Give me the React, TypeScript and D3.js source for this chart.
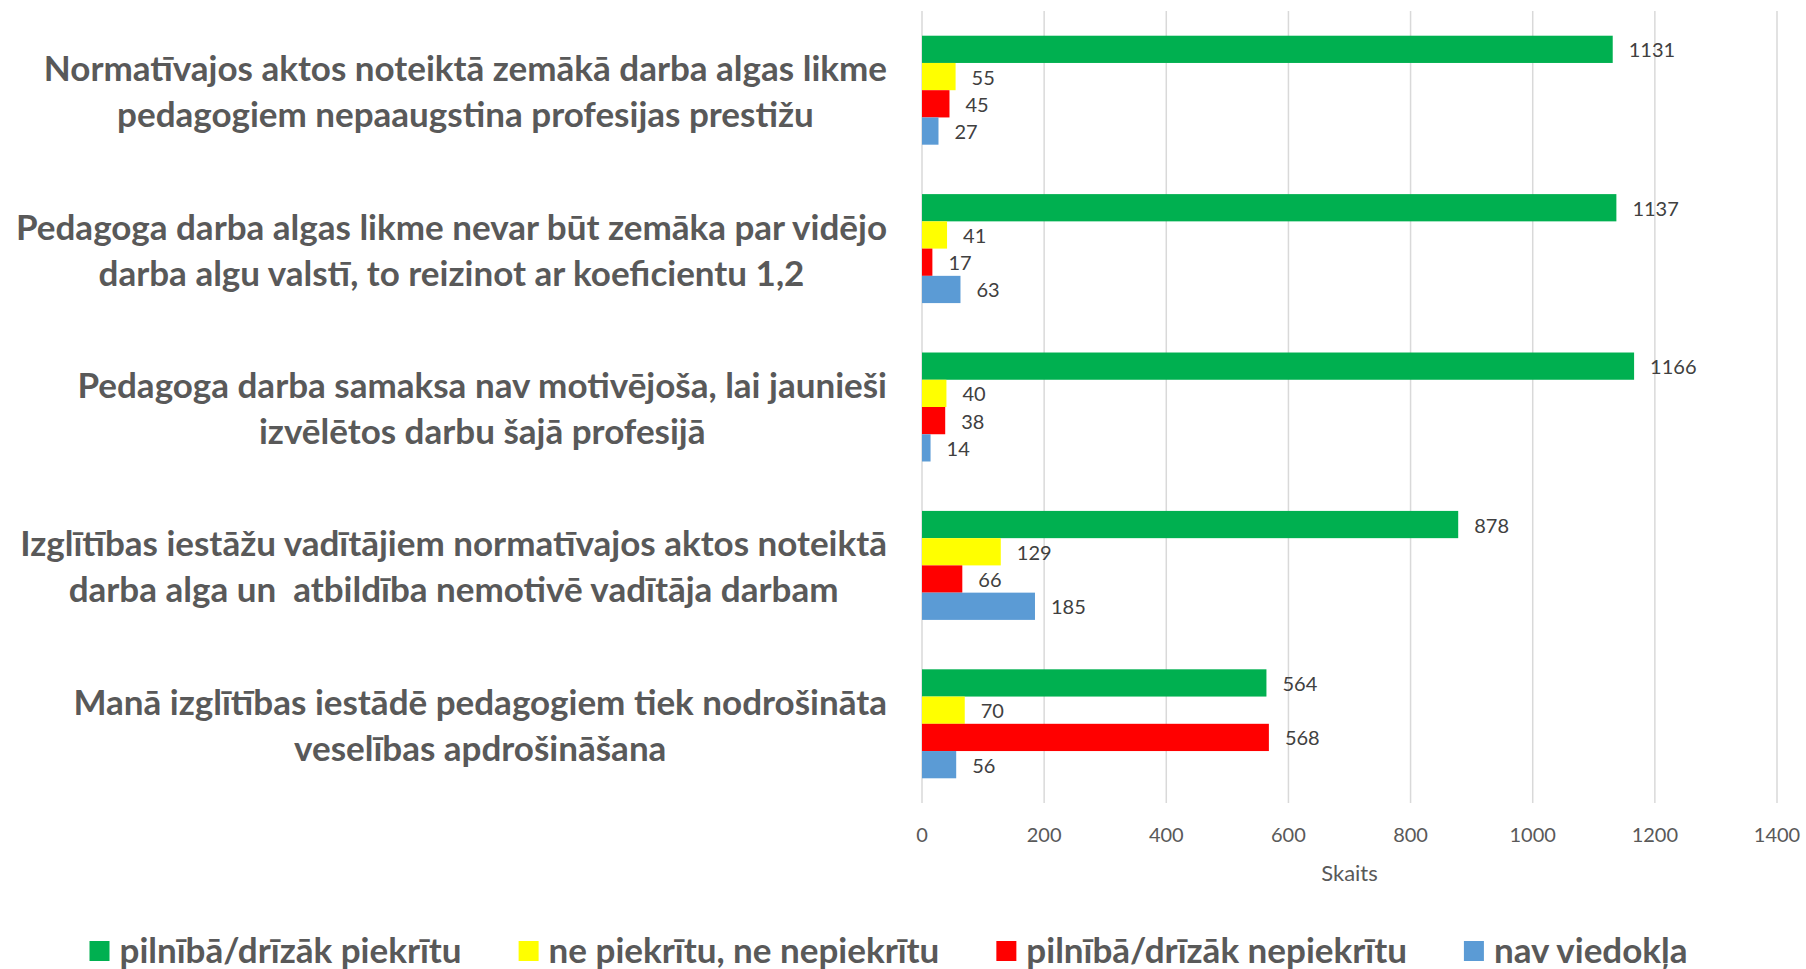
import React, { useRef, useEffect } from "react";
import * as d3 from "d3";

const categories = [
  ["Normatīvajos aktos noteiktā zemākā darba algas likme", "pedagogiem nepaaugstina profesijas prestižu"],
  ["Pedagoga darba algas likme nevar būt zemāka par vidējo", "darba algu valstī, to reizinot ar koeficientu 1,2"],
  ["Pedagoga darba samaksa nav motivējoša, lai jaunieši", "izvēlētos darbu šajā profesijā"],
  ["Izglītības iestāžu vadītājiem normatīvajos aktos noteiktā", "darba alga un  atbildība nemotivē vadītāja darbam"],
  ["Manā izglītības iestādē pedagogiem tiek nodrošināta", "veselības apdrošināšana"],
];

const seriesNames = [
  "pilnībā/drīzāk piekrītu",
  "ne piekrītu, ne nepiekrītu",
  "pilnībā/drīzāk nepiekrītu",
  "nav viedokļa",
];
const seriesColors = ["#00B050", "#FFFF00", "#FF0000", "#5B9BD5"];

const agree = [1131, 1137, 1166, 878, 564];
const neutral = [55, 41, 40, 129, 70];
const disagree = [45, 17, 38, 66, 568];
const noOpinion = [27, 63, 14, 185, 56];

const xTicks = [0, 200, 400, 600, 800, 1000, 1200, 1400];
const axisTitle = "Skaits";

const FONT = "Lato, 'Open Sans', sans-serif";

const BarChart = () => {
  const svgRef = useRef<SVGSVGElement>(null);

  useEffect(() => {
    document.body.style.margin = "0";
    const width = 1806;
    const height = 969;
    const svg = d3.select(svgRef.current).attr("width", width).attr("height", height);
    svg.selectAll("*").remove();

    const seriesValues = [agree, neutral, disagree, noOpinion];

    const x = d3.scaleLinear().domain([0, 1400]).range([922, 1777]);
    const y = d3
      .scaleBand<number>()
      .domain(d3.range(categories.length))
      .range([11, 803])
      .paddingInner(0.312)
      .paddingOuter(0.156);
    const ySub = d3
      .scaleBand<number>()
      .domain(d3.range(seriesNames.length))
      .range([0, y.bandwidth()]);

    // gridlines
    svg.append("g")
      .selectAll("line")
      .data(xTicks)
      .enter()
      .append("line")
      .attr("x1", (d) => x(d))
      .attr("x2", (d) => x(d))
      .attr("y1", 11)
      .attr("y2", 803)
      .attr("stroke", "#D9D9D9")
      .attr("stroke-width", 1.5);

    // tick labels
    svg.append("g")
      .selectAll("text")
      .data(xTicks)
      .enter()
      .append("text")
      .attr("x", (d) => x(d))
      .attr("y", 834)
      .attr("text-anchor", "middle")
      .attr("dominant-baseline", "central")
      .attr("font-family", FONT)
      .attr("font-size", 20)
      .attr("fill", "#595959")
      .text((d) => d);

    svg.append("text")
      .attr("x", (x(0) + x(1400)) / 2)
      .attr("y", 872)
      .attr("text-anchor", "middle")
      .attr("dominant-baseline", "central")
      .attr("font-family", FONT)
      .attr("font-size", 22)
      .attr("fill", "#595959")
      .text(axisTitle);

    // bars
    const groups = svg.append("g")
      .selectAll("g")
      .data(categories.map((_, i) => i))
      .enter()
      .append("g")
      .attr("transform", (i) => `translate(0,${y(i)})`);

    groups.each(function (ci) {
      const g = d3.select(this);
      seriesValues.forEach((vals, si) => {
        const v = vals[ci];
        g.append("rect")
          .attr("x", x(0))
          .attr("y", ySub(si)!)
          .attr("width", x(v) - x(0))
          .attr("height", ySub.bandwidth())
          .attr("fill", seriesColors[si]);
        g.append("text")
          .attr("x", x(v) + 16)
          .attr("y", ySub(si)! + ySub.bandwidth() / 2)
          .attr("dominant-baseline", "central")
          .attr("font-family", FONT)
          .attr("font-size", 20)
          .attr("fill", "#404040")
          .text(v);
      });
    });

    // category labels: block right-aligned, lines centered in the block
    const labelRight = 887;
    categories.forEach((lines, ci) => {
      const cy = y(ci)! + y.bandwidth() / 2;
      const lineGap = 46;
      const t = svg.append("text")
        .attr("font-family", FONT)
        .attr("font-size", 35)
        .attr("font-weight", "bold")
        .attr("fill", "#595959")
        .attr("text-anchor", "middle")
        .style("white-space", "pre");
      const spans = lines.map((line, li) =>
        t.append("tspan")
          .attr("y", cy + (li - (lines.length - 1) / 2) * lineGap)
          .attr("dominant-baseline", "central")
          .text(line)
      );
      const maxW = d3.max(spans, (s) => (s.node() as SVGTSpanElement).getComputedTextLength()) || 0;
      spans.forEach((s) => s.attr("x", labelRight - maxW / 2));
    });

    // legend
    const legend = svg.append("g");
    const sq = 20;
    const gapText = 10;
    const gapItem = 57;
    const legendY = 949;
    let cx = 0;
    seriesNames.forEach((name, si) => {
      const item = legend.append("g").attr("transform", `translate(${cx},0)`);
      item.append("rect")
        .attr("x", 0)
        .attr("y", legendY + 2 - sq / 2)
        .attr("width", sq)
        .attr("height", sq)
        .attr("fill", seriesColors[si]);
      const txt = item.append("text")
        .attr("x", sq + gapText)
        .attr("y", legendY)
        .attr("dominant-baseline", "central")
        .attr("font-family", FONT)
        .attr("font-size", 35)
        .attr("font-weight", "bold")
        .attr("fill", "#595959")
        .text(name);
      const w = (txt.node() as SVGTextElement).getComputedTextLength();
      cx += sq + gapText + w + gapItem;
    });
    const total = cx - gapItem;
    legend.attr("transform", `translate(${888.5 - total / 2},0)`);
  }, []);

  return <svg ref={svgRef} style={{ display: "block" }} />;
};

export default function App() {
  return <BarChart />;
}
